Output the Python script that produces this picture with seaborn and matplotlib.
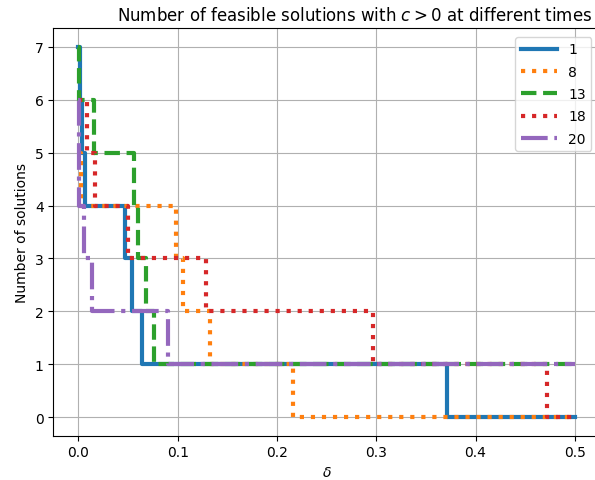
import numpy as np
import matplotlib
matplotlib.use('Agg')
import matplotlib.pyplot as plt
import seaborn as sns

# step breakpoints: value y[i] holds from x[i] to x[i+1]
x_1 = [0.0, 0.002, 0.004, 0.007, 0.047, 0.054, 0.064, 0.371, 0.5]
y_1 = [7, 6, 5, 4, 3, 2, 1, 0, 0]
x_8 = [0.0, 0.003, 0.098, 0.105, 0.133, 0.216, 0.5]
y_8 = [5, 4, 3, 2, 1, 0, 0]
x_13 = [0.0, 0.001, 0.016, 0.0565, 0.06, 0.068, 0.0766, 0.5]
y_13 = [7, 6, 5, 4, 3, 2, 1, 1]
x_18 = [0.0, 0.009, 0.017, 0.05, 0.129, 0.297, 0.472, 0.5]
y_18 = [6, 5, 4, 3, 2, 1, 0, 0]
x_20 = [0.0, 0.0005, 0.001, 0.006, 0.014, 0.09, 0.5]
y_20 = [6, 5, 4, 3, 2, 1, 1]

labels = ['1', '8', '13', '18', '20']
styles = ['-', ':', '--', ':', '-.']
colors = sns.color_palette('tab10', 5)
series = [(x_1, y_1), (x_8, y_8), (x_13, y_13), (x_18, y_18), (x_20, y_20)]

fig = plt.figure(figsize=(5.95, 4.81), dpi=100)
ax = fig.add_axes([0.0899, 0.0925, 0.918, 0.8462])
for (xs, ys), lab, ls, c in zip(series, labels, styles, colors):
    sns.lineplot(x=xs, y=ys, ax=ax, drawstyle='steps-post', linestyle=ls,
                 lw=3, color=c, label=lab, errorbar=None)

ax.set_xlim(-0.025, 0.525)
ax.set_ylim(-0.35, 7.35)
ax.set_xticks([0.0, 0.1, 0.2, 0.3, 0.4, 0.5])
ax.grid(True)
ax.set_title(r'Number of feasible solutions with $c > 0$ at different times', x=0.551)
ax.set_xlabel(r'$\delta$')
ax.set_ylabel('Number of solutions')
ax.legend(loc='upper right', handlelength=2.6, labelspacing=0.6, borderaxespad=0.6)
fig.savefig('out.png', dpi=100)
